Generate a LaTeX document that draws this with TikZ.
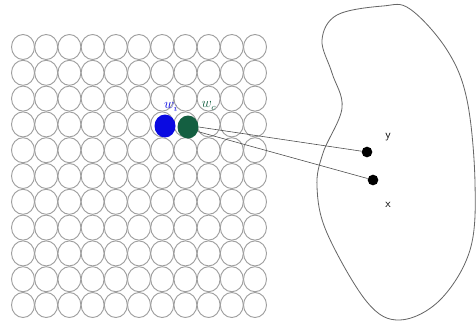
\documentclass[tikz,border=0pt]{standalone}
\usepackage{amsmath,amssymb}
\usetikzlibrary{shapes.geometric}
\definecolor{winblue}{RGB}{10,10,225}
\definecolor{wingreen}{RGB}{20,95,65}

\begin{document}
\begin{tikzpicture}[x=0.3mm, y=-0.3mm, every node/.style={font=\small},
	cell/.style={ellipse, draw=gray!75, line width=0.8pt, minimum width=6.9mm, minimum height=7.5mm, inner sep=0pt},
	unit/.style={ellipse, minimum width=6.3mm, minimum height=6.9mm, inner sep=0pt},
	dot/.style={circle, fill=black, minimum size=3.2mm, inner sep=0pt},
	lab/.style={font=\sffamily, inner sep=1pt},
	link/.style={black!70, line width=0.5pt}]
	\useasboundingbox (0,0) rectangle (476,331);
	% map of units
	\foreach \i in {0,...,10} {\foreach \j in {0,...,10} {\node[cell] (c-\i-\j) at ({23+23.2*\i},{47+25.8*\j}) {};}}
	\node[unit, fill=winblue] (wi) at (165,126) {};
	\node[unit, fill=wingreen] (wc) at (188,127) {};
	\node[lab, font=\large, text=winblue] (wilab) at (171,107) {$w_i$};
	\node[lab, font=\large, text=wingreen] (wclab) at (209,106) {$w_c$};
	% input space
	\draw[gray!80!black, line width=0.7pt] plot[smooth cycle, tension=0.6] coordinates {(383,6) (410,9) (447,50) (467,100) (475,183) (470,250) (440,300) (400,320) (367,302) (327,233) (317,187) (323,153) (342,108) (332,73) (322,40) (337,15)};
	\node[dot] (ydot) at (367,152) {};
	\node[dot] (xdot) at (373,180) {};
	\node[lab] (ylab) at (388,137) {y};
	\node[lab] (xlab) at (388,205) {x};
	\draw[link] (wc.east) -- (ydot);
	\draw[link] (wc.-25) -- (xdot);
\end{tikzpicture}
\end{document}
